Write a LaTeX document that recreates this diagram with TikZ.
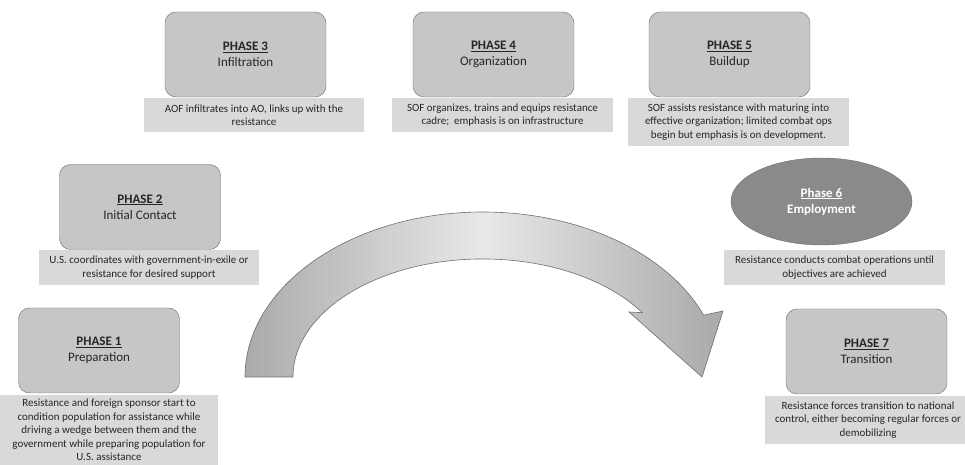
\documentclass[tikz,border=0pt]{standalone}
\usepackage{fontspec}
\setmainfont{Carlito}
\usetikzlibrary{shapes.geometric}
\definecolor{boxgray}{HTML}{C6C6C6}
\definecolor{descgray}{HTML}{D9D9D9}
\definecolor{edgegray}{HTML}{6E6E6E}
\definecolor{ovalgray}{HTML}{8A8A8A}
\definecolor{txtgray}{HTML}{262626}
\newcommand{\bigarrowpath}{(245,88) arc[start angle=180, end angle=22, x radius=238, y radius=165]
  -- (723,154) -- (702,88) -- (629,153)
  -- (642.3,152.3) arc[start angle=33, end angle=180, x radius=190, y radius=118]
  -- cycle}
\begin{document}
\begin{tikzpicture}[
    x=1pt, y=1pt,
    phase/.style={rectangle, draw=edgegray, fill=boxgray, rounded corners=11pt, minimum width=161pt, minimum height=85pt, align=center, text=txtgray, font=\fontsize{13}{16}\selectfont},
    desc/.style={rectangle, fill=descgray, inner sep=2pt, align=center, text=txtgray, font=\fontsize{11}{13.5}\selectfont},
    oval/.style={ellipse, draw=edgegray, fill=ovalgray, minimum width=181pt, minimum height=87pt, align=center, text=white, font=\bfseries\fontsize{13}{16}\selectfont}
]
\useasboundingbox (0,0) rectangle (965,465);

% Big curved arrow, light in the middle
\begin{scope}
  \clip \bigarrowpath;
  \foreach \i in {0,...,59} {
    \pgfmathsetmacro{\xa}{245+8*\i}
    \pgfmathsetmacro{\shade}{9+24*min(1,abs(\xa+4-483)/235)}
    \fill[black!\shade] (\xa,80) rectangle ++(8.6,190);
  }
\end{scope}
\draw[edgegray, line width=0.6pt] \bigarrowpath;

% Phase boxes
\node[phase] (p1) at (99,114.5) {\underline{\textbf{PHASE 1}}\\Preparation};
\node[phase] (p2) at (140,258) {\underline{\textbf{PHASE 2}}\\Initial Contact};
\node[phase] (p3) at (245.5,410.5) {\underline{\textbf{PHASE 3}}\\Infiltration};
\node[phase] (p4) at (493.5,410.5) {\underline{\textbf{PHASE 4}}\\Organization};
\node[phase] (p5) at (729.5,410.5) {\underline{\textbf{PHASE 5}}\\Buildup};
\node[oval] (p6) at (821.5,263.5) {\underline{Phase 6}\\Employment};
\node[phase] (p7) at (866.5,113.5) {\underline{\textbf{PHASE 7}}\\Transition};

% Descriptions
\node[desc, minimum width=218pt, minimum height=70pt] (d1) at (109,35) {Resistance and foreign sponsor start to\\condition population for assistance while\\driving a wedge between them and the\\government while preparing population for\\U.S. assistance};
\node[desc, minimum width=220pt, minimum height=35pt] (d2) at (149,197.5) {U.S. coordinates with government-in-exile or\\resistance for desired support};
\node[desc, minimum width=220pt, minimum height=34pt] (d3) at (254,350) {AOF infiltrates into AO, links up with the\\resistance};
\node[desc, minimum width=221pt, minimum height=34pt] (d4) at (502.5,350) {SOF organizes, trains and equips resistance\\cadre;\ \ emphasis is on infrastructure};
\node[desc, minimum width=221pt, minimum height=48pt] (d5) at (738.5,343) {SOF assists resistance with maturing into\\effective organization; limited combat ops\\begin but emphasis is on development.};
\node[desc, minimum width=221pt, minimum height=35pt] (d6) at (834.5,197.5) {Resistance conducts combat operations until\\objectives are achieved};
\node[desc, minimum width=206pt, minimum height=48pt] (d7) at (868,45) {Resistance forces transition to national\\control, either becoming regular forces or\\demobilizing};
\end{tikzpicture}
\end{document}
